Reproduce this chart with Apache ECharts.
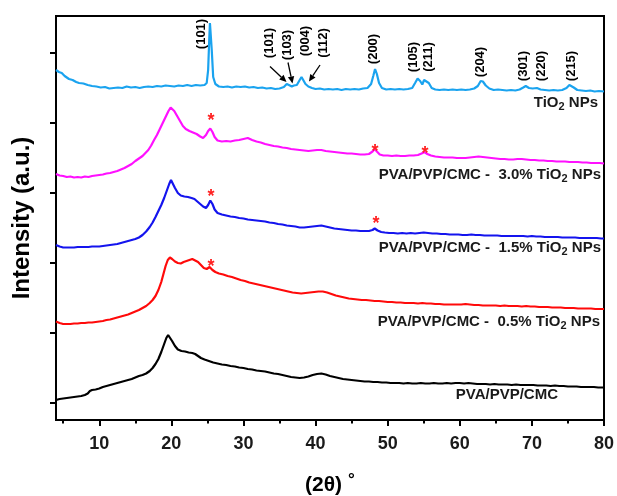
<!DOCTYPE html>
<html><head><meta charset="utf-8">
<script src="https://cdn.jsdelivr.net/npm/echarts@6/dist/echarts.min.js"></script>
<style>html,body{margin:0;padding:0;background:#fff}#c{width:617px;height:496px}</style>
</head><body><div id="c"></div>
<script>
// ---- data (2θ in degrees, intensity in a.u., stacked traces) ----
const xTickValues = [10, 20, 30, 40, 50, 60, 70, 80];
const xMinorTickValues = [5, 15, 25, 35, 45, 55, 65, 75];
const yTickValues = [0, 70, 140, 210, 280, 350];

const tio2 = [[4.0,332.5],[4.4,330.5],[4.8,329.5],[5.2,326.5],[5.8,323.5],[6.3,322.5],[6.8,320.5],[7.2,319.5],[7.8,319],[8.4,317.5],[9.0,316.5],[9.6,316],[10.2,315],[10.8,315.5],[11.4,314],[12.0,314.5],[12.6,315],[13.2,314.5],[13.8,316],[14.4,315],[15.0,315.5],[15.6,314.5],[16.2,315.5],[16.8,316],[17.4,315.5],[18.0,316.5],[18.6,316],[19.2,317],[19.8,316.5],[20.4,316],[21.0,317],[21.6,316.5],[22.2,317.5],[22.8,316.5],[23.4,317.5],[24.0,317],[24.6,317.5],[24.9,319.5],[25.1,332.5],[25.25,362.5],[25.35,379.5],[25.45,377.5],[25.6,352.5],[25.8,325.5],[26.1,318.5],[26.6,316],[27.2,315.5],[27.8,316],[28.4,315],[29.0,316],[29.6,315.5],[30.2,316],[30.8,315],[31.4,315.5],[32.0,314.5],[32.6,315],[33.2,314],[33.8,314.5],[34.4,313.5],[35.0,314],[35.6,315.5],[36.0,318.5],[36.3,317.5],[36.7,316],[37.0,317],[37.4,317.5],[37.8,322.5],[38.05,325.5],[38.3,323.5],[38.6,318.5],[39.0,316],[39.5,314.5],[40.0,313.5],[40.6,314],[41.2,313],[41.8,313.5],[42.4,313],[43.0,313.5],[43.6,312.5],[44.2,313.5],[44.8,313],[45.4,313.5],[46.0,313],[46.6,314],[47.2,314.5],[47.7,318.5],[48.0,326.5],[48.25,333.5],[48.5,328.5],[48.8,319.5],[49.2,314.5],[49.8,313],[50.4,313.5],[51.0,313],[51.6,313.5],[52.2,313],[52.8,313.5],[53.4,314.5],[53.8,319.5],[54.15,324],[54.5,321.5],[54.8,318],[55.05,322.5],[55.3,324],[55.7,319.5],[56.1,314.5],[56.6,313],[57.2,312.5],[57.8,313],[58.4,312.5],[59.0,313],[59.6,312.5],[60.2,313],[60.8,312.5],[61.4,313],[62.0,314],[62.5,316.5],[62.9,321.5],[63.2,321],[63.6,317],[64.1,314],[64.7,312.5],[65.3,313],[65.9,312.5],[66.5,312],[67.1,312.5],[67.7,312],[68.3,313],[68.8,315],[69.15,316.5],[69.6,314.5],[70.1,314],[70.7,314.5],[71.2,313],[71.8,312.5],[72.4,312],[73.0,312.5],[73.6,312],[74.2,312.5],[74.8,314.5],[75.2,317.5],[75.45,318],[75.8,315],[76.3,312.5],[76.9,312],[77.5,311.5],[78.1,312],[78.7,311],[79.3,311.5],[80.0,311]];

const pct30 = [[4.0,228.5],[4.5,227],[5.0,226.5],[5.5,225.5],[6.0,226],[6.5,225],[7.0,225.5],[7.5,225],[8.0,226],[8.5,225.5],[9.0,226.5],[9.5,227],[10.0,227.5],[10.5,228],[11.0,229],[11.5,229.5],[12.0,230.5],[12.5,231.5],[13.0,233],[13.5,234.5],[14.0,236.5],[14.5,238.5],[15.0,241.5],[15.5,244],[16.0,246.5],[16.4,249.5],[16.8,252.5],[17.2,257],[17.6,262.5],[18.0,267.5],[18.4,273.5],[18.8,279.5],[19.2,285.5],[19.6,291.5],[19.9,295],[20.1,294.5],[20.4,291.5],[20.8,286.5],[21.2,281.5],[21.6,276.5],[22.0,273.5],[22.5,271.5],[23.0,270],[23.5,268.5],[24.0,266],[24.4,264.5],[24.8,267.5],[25.1,271.5],[25.4,274],[25.7,270.5],[26.0,265.5],[26.4,262],[27.0,261],[27.6,261.5],[28.2,261],[28.8,262],[29.4,262.5],[30.0,263.5],[30.6,264.5],[31.2,262.5],[31.8,261],[32.4,260],[33.0,258.5],[33.6,257.5],[34.2,256.5],[34.8,256],[35.4,255],[36.0,254.5],[36.6,253.5],[37.2,253],[37.8,252.5],[38.4,252],[39.0,251.5],[39.6,252],[40.2,252.5],[40.8,252.5],[41.4,251.5],[42.0,251],[42.6,250.5],[43.2,250],[43.8,249.5],[44.4,249],[45.0,249],[45.6,248.5],[46.2,248],[46.8,248],[47.4,248.5],[47.9,251],[48.2,253.5],[48.5,251],[48.9,248],[49.4,247],[50.0,247],[50.6,246.5],[51.2,247],[51.8,246.5],[52.4,246.5],[53.0,247],[53.6,247],[54.2,247.5],[54.7,249],[55.1,250.5],[55.5,248.5],[56.0,247],[56.6,246],[57.2,245.5],[57.8,245],[58.4,245],[59.0,245],[59.6,244.5],[60.2,244.5],[60.8,244.5],[61.4,245],[62.0,245.5],[62.6,246],[63.2,245.5],[63.8,245],[64.4,244.5],[65.0,244],[65.6,243.5],[66.2,243.5],[66.8,243],[67.4,243],[68.0,243.5],[68.6,243.5],[69.2,243],[69.8,242.5],[70.4,242.5],[71.0,242],[71.6,242],[72.2,241.5],[72.8,241.5],[73.4,241],[74.0,241],[74.6,241],[75.2,240.5],[75.8,240.5],[76.4,240.5],[77.0,240],[77.6,240],[78.2,239.5],[78.8,239.5],[79.4,239.5],[80.0,239]];

const pct15 = [[4.0,157.5],[4.5,156],[5.0,155],[5.5,155],[6.0,155],[6.5,155],[7.0,155.5],[7.5,155.5],[8.0,155.5],[8.5,155.5],[9.0,156],[9.5,156],[10.0,156],[10.5,156.5],[11.0,157],[11.5,157.5],[12.0,158],[12.5,158.5],[13.0,159.5],[13.5,160.5],[14.0,161.5],[14.5,162.5],[15.0,163.5],[15.5,165],[16.0,167.5],[16.5,171],[17.0,175.5],[17.4,180],[17.8,185.5],[18.2,191.5],[18.6,197.5],[19.0,204.5],[19.4,212.5],[19.7,218.5],[19.95,222.5],[20.15,220.5],[20.5,214.5],[20.9,209.5],[21.3,207],[21.8,206],[22.3,205.5],[22.8,204.5],[23.2,203.5],[23.6,201],[24.0,198.5],[24.4,196],[24.8,194.5],[25.1,197.5],[25.4,202],[25.7,198.5],[26.0,193],[26.4,189.5],[27.0,188],[27.6,187],[28.2,186],[28.8,185.5],[29.4,184.5],[30.0,184],[30.6,183],[31.2,182.5],[31.8,182],[32.4,181.5],[33.0,181],[33.6,180],[34.2,179.5],[34.8,178.5],[35.4,178],[36.0,177],[36.6,176.5],[37.2,176],[37.8,175],[38.4,175],[39.0,175.5],[39.6,176],[40.2,176.5],[40.8,177],[41.4,176],[42.0,175],[42.6,174],[43.2,173.5],[43.8,173],[44.4,172.5],[45.0,172],[45.6,172],[46.2,171.5],[46.8,171.5],[47.4,171.5],[47.9,172.5],[48.2,174],[48.6,172],[49.1,170.5],[49.6,170],[50.2,169.5],[50.8,169.5],[51.4,169],[52.0,169.5],[52.6,169],[53.2,169.5],[53.8,169],[54.4,169.5],[55.0,170],[55.6,169.5],[56.2,169],[56.8,169],[57.4,168.5],[58.0,168.5],[58.6,168],[59.2,168],[59.8,168],[60.4,167.5],[61.0,167.5],[61.6,168],[62.2,167.5],[62.8,167.5],[63.4,167],[64.0,167],[64.6,167],[65.2,167],[65.8,166.5],[66.4,166.5],[67.0,166.5],[67.6,166.5],[68.2,166.5],[68.8,166.5],[69.4,166],[70.0,166.5],[70.6,166],[71.2,166],[71.8,165.5],[72.4,165.5],[73.0,165.5],[73.6,165.5],[74.2,165],[74.8,165],[75.4,165],[76.0,165],[76.6,164.5],[77.2,164.5],[77.8,164.5],[78.4,164.5],[79.0,164.5],[79.6,164],[80.0,164]];

const pct05 = [[4.0,81],[4.5,79.5],[5.0,78.5],[5.5,78.5],[6.0,78.5],[6.5,79],[7.0,79],[7.5,79.5],[8.0,79.5],[8.5,80],[9.0,80],[9.5,80.5],[10.0,81],[10.5,81.5],[11.0,82.5],[11.5,83],[12.0,84],[12.5,85],[13.0,86],[13.5,87],[14.0,88],[14.5,89.5],[15.0,91],[15.5,92.5],[16.0,94.5],[16.5,96.5],[17.0,99.5],[17.4,102.5],[17.8,106.5],[18.2,112.5],[18.6,120.5],[18.9,128.5],[19.2,136.5],[19.5,142.5],[19.8,145],[20.1,143.5],[20.5,141],[20.9,139.5],[21.3,139],[21.7,140.5],[22.1,141.5],[22.5,142.5],[22.9,143.5],[23.3,142],[23.7,140.5],[24.1,137.5],[24.5,134.5],[24.9,133.5],[25.3,135.5],[25.7,132.5],[26.1,130.5],[26.6,129],[27.2,128],[27.8,126.5],[28.4,125.5],[29.0,124],[29.6,122.5],[30.2,121.5],[30.8,120],[31.4,119],[32.0,118],[32.6,117],[33.2,116],[33.8,115],[34.4,114],[35.0,113],[35.6,112],[36.2,111],[36.8,110],[37.4,109.5],[38.0,109],[38.6,109.5],[39.2,110],[39.8,110.5],[40.4,111],[41.0,111],[41.6,110],[42.2,108.5],[42.8,107],[43.4,106],[44.0,105],[44.6,104],[45.2,103.5],[45.8,103],[46.4,102.5],[47.0,102.5],[47.6,102],[48.2,101.5],[48.8,101.5],[49.4,101],[50.0,100.5],[50.6,100.5],[51.2,100],[51.8,100],[52.4,99.5],[53.0,99.5],[53.6,99.5],[54.2,99],[54.8,99.5],[55.4,99],[56.0,99],[56.6,98.5],[57.2,98.5],[57.8,98],[58.4,98],[59.0,98],[59.6,98],[60.2,98],[60.8,98.5],[61.4,98],[62.0,97.5],[62.6,97.5],[63.2,97],[63.8,97],[64.4,97],[65.0,97],[65.6,96.5],[66.2,97],[66.8,96.5],[67.4,96.5],[68.0,96.5],[68.6,96],[69.2,96.5],[69.8,96],[70.4,96],[71.0,95.5],[71.6,95.5],[72.2,95.5],[72.8,95],[73.4,95],[74.0,95],[74.6,94.5],[75.2,94.5],[75.8,94.5],[76.4,94],[77.0,94],[77.6,94],[78.2,94],[78.8,93.5],[79.4,93.5],[80.0,93.5]];

const blend = [[4.0,2.5],[4.5,3.5],[5.0,4],[5.5,4.5],[6.0,5],[6.5,5.5],[7.0,6],[7.5,6.5],[8.0,7.5],[8.4,9],[8.7,11.5],[9.0,12.5],[9.5,13],[10.0,14],[10.5,15.5],[11.0,16.5],[11.5,17.5],[12.0,18.5],[12.5,19.5],[13.0,20.5],[13.5,21.5],[14.0,22.5],[14.5,23.5],[15.0,25],[15.5,26.5],[16.0,27.5],[16.5,29],[17.0,31.5],[17.4,34.5],[17.8,38.5],[18.2,43.5],[18.6,50.5],[19.0,58.5],[19.3,64.5],[19.55,67.5],[19.8,65.5],[20.1,61.5],[20.5,56.5],[20.9,53],[21.4,51.5],[21.9,51],[22.4,50],[22.9,49.5],[23.3,48.5],[23.7,46.5],[24.1,44.5],[24.6,43],[25.2,41.5],[25.8,40],[26.4,39],[27.0,38],[27.6,37.5],[28.2,36.5],[28.8,36],[29.4,35],[30.0,34.5],[30.6,33.5],[31.2,33],[31.8,32],[32.4,31.5],[33.0,31],[33.6,30],[34.2,29],[34.8,28.5],[35.4,27.5],[36.0,26.5],[36.6,25.5],[37.2,25],[37.8,24.5],[38.4,25],[39.0,26],[39.6,27.5],[40.2,28.5],[40.8,29],[41.4,28],[42.0,26.5],[42.6,25.5],[43.2,24.5],[43.8,23.5],[44.4,23],[45.0,22.5],[45.6,22],[46.2,21.5],[46.8,21],[47.4,21],[48.0,20.5],[48.6,20.5],[49.2,20],[49.8,20],[50.4,19.5],[51.0,19.5],[51.6,19.5],[52.2,19],[52.8,19.5],[53.4,19],[54.0,19],[54.6,19.5],[55.2,19],[55.8,19],[56.4,19.5],[57.0,19],[57.6,19],[58.2,19.5],[58.8,19],[59.4,19.5],[60.0,19.5],[60.6,19],[61.2,19.5],[61.8,19],[62.4,18.5],[63.0,18.5],[63.6,18.5],[64.2,18],[64.8,18.5],[65.4,18],[66.0,18],[66.6,18],[67.2,17.5],[67.8,18],[68.4,17.5],[69.0,17.5],[69.6,17.5],[70.2,17.5],[70.8,17],[71.4,17],[72.0,17],[72.6,16.5],[73.2,17],[73.8,16.5],[74.4,16.5],[75.0,16],[75.6,16],[76.2,16],[76.8,15.5],[77.4,15.5],[78.0,15.5],[78.6,15.5],[79.2,15],[80.0,15]];

const seriesNames = ['TiO2 NPs', 'PVA/PVP/CMC - 3.0% TiO2 NPs', 'PVA/PVP/CMC - 1.5% TiO2 NPs', 'PVA/PVP/CMC - 0.5% TiO2 NPs', 'PVA/PVP/CMC'];
const hklLabels = ['(101)', '(101)', '(103)', '(004)', '(112)', '(200)', '(105)', '(211)', '(204)', '(301)', '(220)', '(215)'];

// ---- annotation layout (pixels) ----
const hklPos = [[201,34],[269,43],[287,45],[305,41],[323,43],[373,49],[413,57],[428,57],[480,62],[523,66],[541,66],[571,66]];
const arrows = [[[270,66.5],[286.5,82]],[[288,62.5],[292.5,83.5]],[[320,65],[309,81.5]]];
const stars = [[211,117],[375,148],[425,150.5],[211,193],[376,220.5],[211,263]];
const curveLabels = [
  {t:'TiO{s|2} NPs', x:598, y:103},
  {t:'PVA/PVP/CMC -  3.0% TiO{s|2} NPs', x:601, y:175},
  {t:'PVA/PVP/CMC -  1.5% TiO{s|2} NPs', x:601, y:248},
  {t:'PVA/PVP/CMC -  0.5% TiO{s|2} NPs', x:600, y:322},
  {t:'PVA/PVP/CMC', x:558, y:395}
];

const FONT = 'Arial, "Liberation Sans", sans-serif';
const colors = ['#1aa3ef', '#ff10ff', '#1414ee', '#ff0a0a', '#000000'];

const graphics = [];
hklLabels.forEach((t, i) => {
  graphics.push({type:'text', x:hklPos[i][0], y:hklPos[i][1], rotation:Math.PI/2, z:100,
    style:{text:t, fontSize:13, fontWeight:'bold', fontFamily:FONT, fill:'#000', align:'center', verticalAlign:'middle'}});
});
arrows.forEach(a => {
  const [p0, p1] = a;
  const dx = p1[0]-p0[0], dy = p1[1]-p0[1], L = Math.hypot(dx, dy);
  const ux = dx/L, uy = dy/L, hl = 7, hw = 3.2;
  const bx = p1[0]-ux*hl, by = p1[1]-uy*hl;
  graphics.push({type:'line', z:100, shape:{x1:p0[0], y1:p0[1], x2:bx, y2:by}, style:{stroke:'#000', lineWidth:1.3}});
  graphics.push({type:'polygon', z:100, shape:{points:[[p1[0],p1[1]],[bx-uy*hw,by+ux*hw],[bx+uy*hw,by-ux*hw]]}, style:{fill:'#000'}});
});
stars.forEach(s => {
  graphics.push({type:'text', x:s[0], y:s[1]+4, z:100,
    style:{text:'*', fontSize:18, fontWeight:'bold', fontFamily:FONT, fill:'#ff2020', align:'center', verticalAlign:'middle'}});
});
curveLabels.forEach(c => {
  graphics.push({type:'text', x:c.x, y:c.y, z:100,
    style:{text:c.t, fontSize:15, fontWeight:'bold', fontFamily:FONT, fill:'#1a1a1a', align:'right', verticalAlign:'middle',
      rich:{s:{fontSize:11, fontWeight:'bold', fontFamily:FONT, fill:'#1a1a1a', padding:[8,0,0,0]}}}});
});

const chart = echarts.init(document.getElementById('c'), null, {renderer:'canvas'});
const seriesData = [tio2, pct30, pct15, pct05, blend];
chart.setOption({
  animation:false,
  backgroundColor:'#fff',
  grid:{left:56, right:13, top:16, bottom:76, containLabel:false, outerBoundsMode:'none',
    show:true, borderColor:'#000', borderWidth:2, backgroundColor:'transparent'},
  xAxis:[{
    type:'value', min:4, max:80, position:'bottom',
    axisLine:{show:true, onZero:false, lineStyle:{color:'#000', width:2}},
    axisTick:{show:true, inside:false, length:6, lineStyle:{color:'#000', width:2}, customValues:xTickValues},
    axisLabel:{show:true, customValues:xTickValues, fontSize:18, fontWeight:'bold', fontFamily:FONT, color:'#1a1a1a', margin:15},
    splitLine:{show:false},
    name:'(2θ){d|°}', nameLocation:'middle', nameGap:52,
    nameTextStyle:{fontSize:21, fontWeight:'bold', fontFamily:FONT, color:'#000',
      rich:{d:{fontSize:17, fontWeight:'bold', fontFamily:FONT, color:'#000', padding:[0,0,10,6]}}}
  },{
    type:'value', min:4, max:80, position:'bottom',
    axisLine:{show:false, onZero:false},
    axisTick:{show:true, inside:false, length:3.5, lineStyle:{color:'#000', width:2}, customValues:xMinorTickValues},
    axisLabel:{show:false}, splitLine:{show:false}
  }],
  yAxis:{
    type:'value', min:-17.5, max:386.5,
    axisLine:{show:true, onZero:false, lineStyle:{color:'#000', width:2}},
    axisTick:{show:true, inside:false, length:6, lineStyle:{color:'#000', width:2}, customValues:yTickValues},
    axisLabel:{show:false}, splitLine:{show:false},
    name:'Intensity (a.u.)', nameLocation:'middle', nameGap:22, nameRotate:90,
    nameTextStyle:{fontSize:24, fontWeight:'bold', fontFamily:FONT, color:'#000'}
  },
  series: seriesData.map((d, i) => ({
    name: seriesNames[i], type:'line', data:d, xAxisIndex:0, showSymbol:false, symbol:'none',
    lineStyle:{color:colors[i], width:2.2}, z:2 + i
  })),
  graphic: graphics
});
</script>
</body></html>
